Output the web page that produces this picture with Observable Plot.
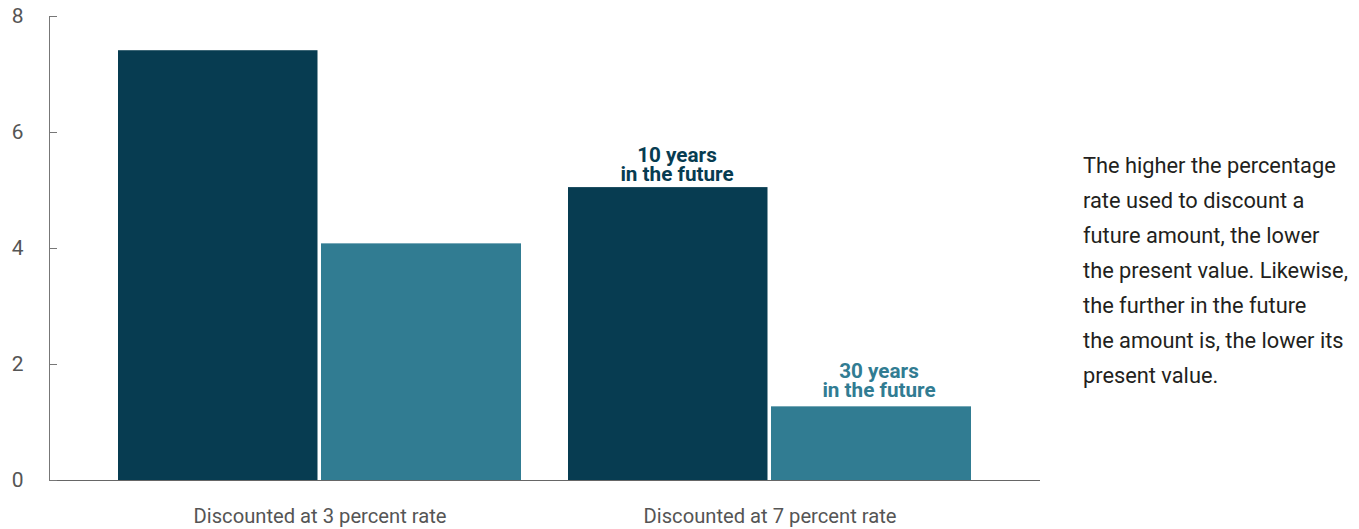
<!DOCTYPE html>
<html>
<head>
<meta charset="utf-8">
<script src="https://cdn.jsdelivr.net/npm/d3@7"></script>
<script src="https://cdn.jsdelivr.net/npm/@observablehq/plot@0.6"></script>
<style>
  html, body { margin: 0; padding: 0; background: #fff; }
  #wrap { position: relative; width: 1359px; height: 529px; font-family: Roboto, "Noto Sans", sans-serif; }
  #note { position: absolute; left: 1083px; top: 147.5px; font-size: 21.8px; line-height: 35px; color: #231f20; white-space: pre; }
</style>
</head>
<body>
<div id="wrap"><div id="note"></div></div>
<script>
const groups = ["Discounted at 3 percent rate", "Discounted at 7 percent rate"];
const tenYear = [7.41, 5.05];
const thirtyYear = [4.08, 1.27];
const seriesLabels = ["10 years\nin the future", "30 years\nin the future"];
const yTicks = [0, 2, 4, 6, 8];
const noteLines = [
  "The higher the percentage",
  "rate used to discount a",
  "future amount, the lower",
  "the present value. Likewise,",
  "the further in the future",
  "the amount is, the lower its",
  "present value."
];

const dark = "#073c51";
const teal = "#317c92";
const axisGray = "#777777";
const labelGray = "#555555";

const tenRows = groups.map((g, i) => ({group: g, value: tenYear[i], label: seriesLabels[0]}));
const thirtyRows = groups.map((g, i) => ({group: g, value: thirtyYear[i], label: seriesLabels[1]}));

const chart = Plot.plot({
  width: 1359,
  height: 529,
  marginTop: 16,
  marginLeft: 49,
  marginRight: 319,
  marginBottom: 49,
  style: {fontFamily: "Roboto, 'Noto Sans', sans-serif", background: "transparent"},
  x: {domain: groups, paddingInner: 0.1044, paddingOuter: 0.1528, align: 0.5, axis: null},
  y: {domain: [0, 8], axis: null},
  marks: [
    Plot.barY(tenRows, {x: "group", y: "value", fill: dark, insetLeft: 0, insetRight: 203.5}),
    Plot.barY(thirtyRows, {x: "group", y: "value", fill: teal, insetLeft: 203, insetRight: 0}),
    Plot.text(tenRows.slice(1), {x: "group", y: "value", text: "label", fill: dark, fontSize: 20.7, fontWeight: "bold", lineAnchor: "bottom", lineHeight: 0.9, dx: -93, dy: -7}),
    Plot.text(thirtyRows.slice(1), {x: "group", y: "value", text: "label", fill: teal, fontSize: 20.7, fontWeight: "bold", lineAnchor: "bottom", lineHeight: 0.92, dx: 109, dy: -10}),
    Plot.frame({anchor: "left", stroke: axisGray}),
    Plot.ruleY([0], {stroke: "#666666"}),
    Plot.axisY({ticks: yTicks, tickSize: 8, insetLeft: 8, text: null, stroke: axisGray, label: null}),
    Plot.axisY({ticks: yTicks, tickSize: 0, tickPadding: 26, fontSize: 21, fill: labelGray, label: null}),
    Plot.axisX({tickSize: 0, tickPadding: 28.5, fontSize: 20.2, fill: labelGray, label: null})
  ]
});

const wrap = document.getElementById("wrap");
wrap.insertBefore(chart, wrap.firstChild);
document.getElementById("note").textContent = noteLines.join("\n");
</script>
</body>
</html>
